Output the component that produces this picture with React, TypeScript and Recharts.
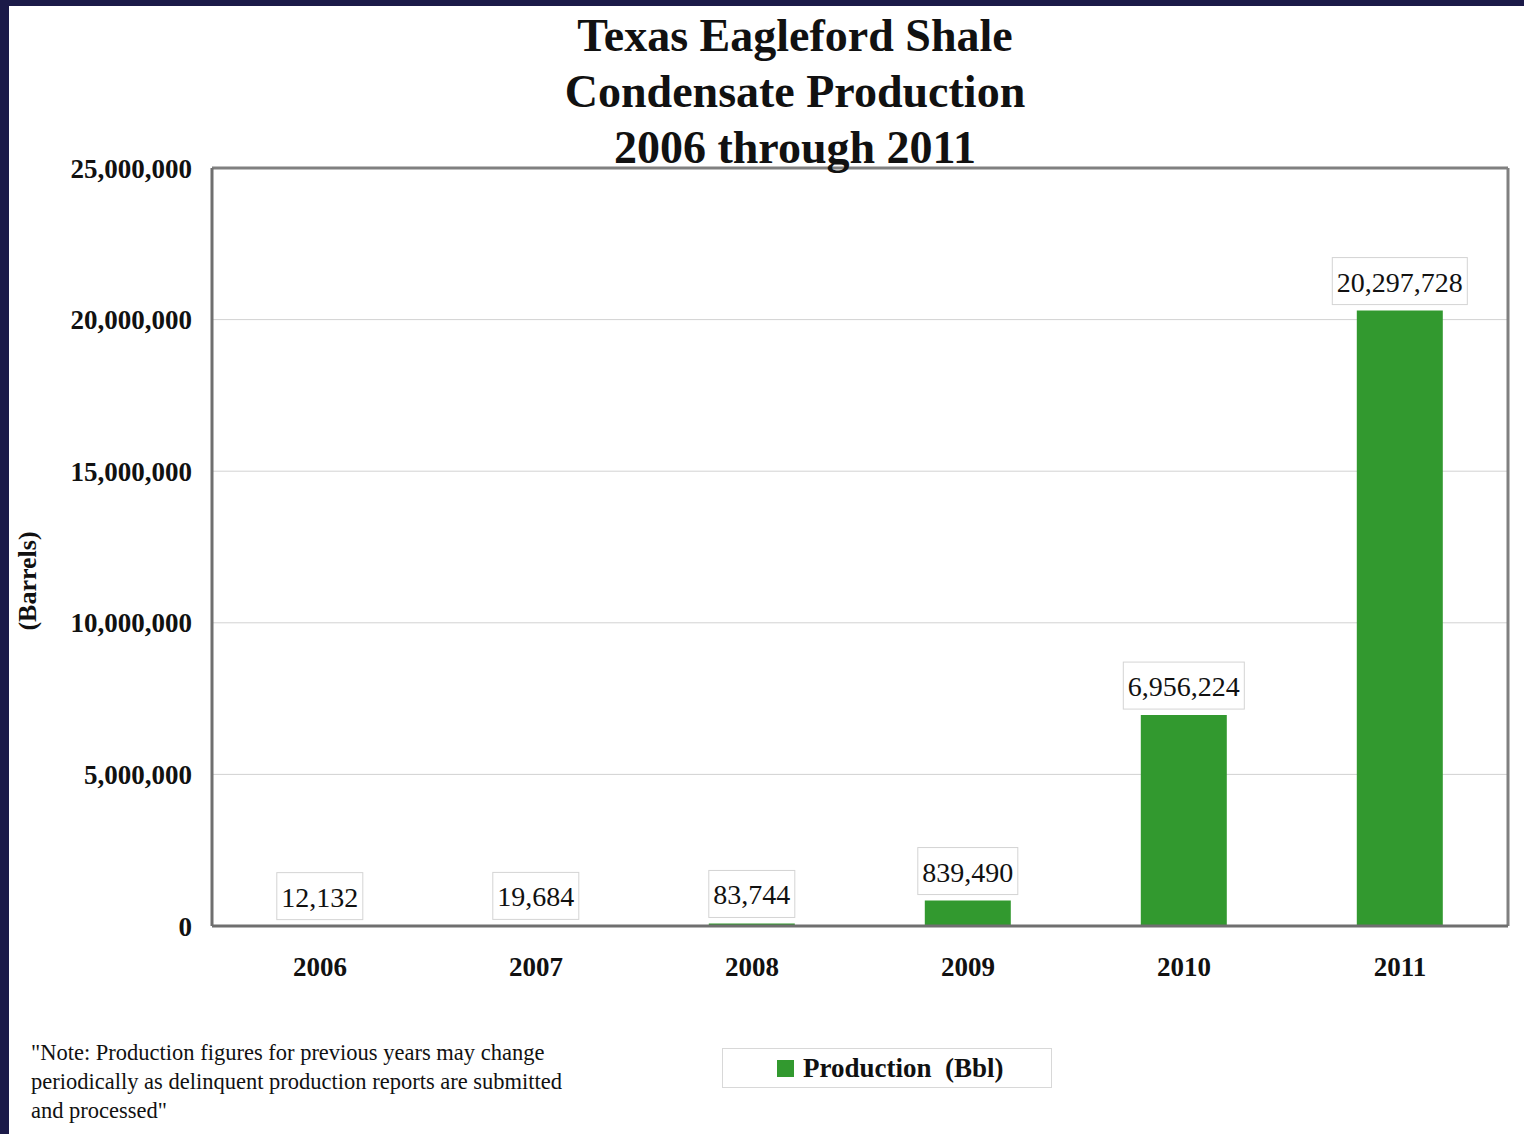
import React from "react";
import { BarChart, Bar, XAxis, YAxis, CartesianGrid, LabelList, Legend } from "recharts";

const years = ["2006", "2007", "2008", "2009", "2010", "2011"];
const production = [12132, 19684, 83744, 839490, 6956224, 20297728];
const yTicks = [0, 5000000, 10000000, 15000000, 20000000, 25000000];
const titleLines = ["Texas Eagleford Shale", "Condensate Production", "2006 through 2011"];
const seriesName = "Production  (Bbl)";
const noteLines = [
  "\"Note: Production figures for previous years may change",
  "periodically as delinquent production reports are submitted",
  "and processed\"",
];

const data = years.map((y, i) => ({ year: y, value: production[i] }));

const SERIF = "'Liberation Serif', 'Times New Roman', serif";
const GREEN = "#32992f";
const NAVY = "#1b1a48";

const fmt = (v: number) => v.toLocaleString("en-US");

const ValueLabel = (props: any) => {
  const { x, y, width, value } = props;
  const s = fmt(Number(value));
  let em = 0;
  for (const ch of s) em += ch === "," ? 0.25 : 0.5;
  const fs = 28;
  const w = em * fs + 9;
  const cx = Number(x) + Number(width) / 2;
  const bottom = Number(y) - 6;
  const h = 47;
  return (
    <g>
      <rect x={cx - w / 2} y={bottom - h} width={w} height={h} fill="#ffffff" stroke="#d4d4d4" strokeWidth={1} />
      <text x={cx} y={bottom - h / 2 + 1} textAnchor="middle" dominantBaseline="central" fontFamily={SERIF} fontSize={fs} fill="#111">
        {s}
      </text>
    </g>
  );
};

const LegendContent = () => (
  <div
    style={{
      boxSizing: "border-box",
      width: 330,
      height: 40,
      border: "1px solid #d8d8d8",
      background: "#fff",
      display: "flex",
      alignItems: "center",
      paddingLeft: 54,
      fontFamily: SERIF,
      fontWeight: "bold",
      fontSize: 27,
      color: "#111",
      whiteSpace: "pre",
    }}
  >
    <span style={{ display: "inline-block", width: 17, height: 17, background: GREEN, marginRight: 9 }} />
    <span>{seriesName}</span>
  </div>
);

export default function App() {
  return (
    <div style={{ position: "absolute", left: 0, top: 0, width: 1524, height: 1134, background: NAVY, overflow: "hidden" }}>
      <div style={{ position: "absolute", left: 9, top: 6, right: 0, bottom: 0, background: "#ffffff" }} />
      <div style={{ position: "absolute", left: 0, top: 0 }}>
        <BarChart
          width={1524}
          height={1134}
          data={data}
          margin={{ top: 168, right: 16, bottom: 148, left: 0 }}
          barCategoryGap="30%"
        >
          <CartesianGrid vertical={false} stroke="#d2d2d2" strokeWidth={1} />
          <CartesianGrid
            stroke="#808080"
            strokeWidth={3}
            horizontalCoordinatesGenerator={(p: any) => [p.offset.top]}
            verticalCoordinatesGenerator={(p: any) => [p.offset.left + p.offset.width]}
          />
          <XAxis
            dataKey="year"
            height={60}
            tickLine={false}
            tickSize={0}
            tickMargin={31}
            axisLine={{ stroke: "#6f6f6f", strokeWidth: 3 }}
            tick={{ fontFamily: SERIF, fontSize: 27, fontWeight: "bold", fill: "#111" }}
          />
          <YAxis
            width={212}
            domain={[0, 25000000]}
            ticks={yTicks}
            interval={0}
            tickLine={false}
            tickSize={0}
            tickMargin={20}
            tickFormatter={(v: number) => fmt(v)}
            axisLine={{ stroke: "#6f6f6f", strokeWidth: 3 }}
            tick={{ fontFamily: SERIF, fontSize: 27, fontWeight: "bold", fill: "#111" }}
            label={{
              content: () => (
                <text
                  x={27}
                  y={581}
                  transform="rotate(-90 27 581)"
                  textAnchor="middle"
                  dominantBaseline="central"
                  fontFamily={SERIF}
                  fontWeight="bold"
                  fontSize={26}
                  fill="#111"
                >
                  (Barrels)
                </text>
              ),
            }}
          />
          <Legend
            layout="horizontal"
            verticalAlign="middle"
            align="center"
            content={LegendContent}
            wrapperStyle={{ position: "absolute", left: 722, top: 1048, width: 330, height: 40 }}
          />
          <Bar dataKey="value" name={seriesName} fill={GREEN} isAnimationActive={false}>
            <LabelList dataKey="value" content={ValueLabel} />
          </Bar>
        </BarChart>
      </div>
      <div
        style={{
          position: "absolute",
          left: 295,
          top: 8,
          width: 1000,
          textAlign: "center",
          fontFamily: SERIF,
          fontWeight: "bold",
          fontSize: 46,
          lineHeight: "56px",
          color: "#111",
        }}
      >
        {titleLines.map((t) => (
          <div key={t}>{t}</div>
        ))}
      </div>
      <div
        style={{
          position: "absolute",
          left: 31,
          top: 1038,
          fontFamily: SERIF,
          fontSize: 22.5,
          lineHeight: "29px",
          color: "#111",
          whiteSpace: "nowrap",
        }}
      >
        {noteLines.map((t) => (
          <div key={t}>{t}</div>
        ))}
      </div>
    </div>
  );
}
